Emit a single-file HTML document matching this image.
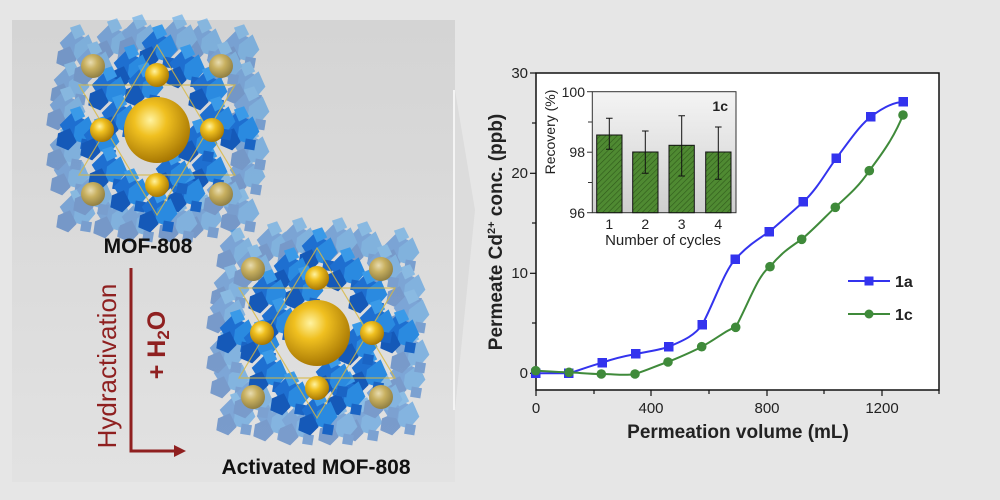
<!DOCTYPE html>
<html><head><meta charset="utf-8"><style>
html,body{margin:0;padding:0;width:1000px;height:500px;overflow:hidden;background:#e6e6e6}
svg{display:block;font-family:"Liberation Sans",sans-serif}
</style></head><body>
<svg width="1000" height="500" viewBox="0 0 1000 500">
<defs>
<linearGradient id="pg" x1="0" y1="0" x2="0" y2="1"><stop offset="0" stop-color="#d4d4d4"/><stop offset="1" stop-color="#e2e2e2"/></linearGradient>
<radialGradient id="gold" cx="0.4" cy="0.35" r="0.7"><stop offset="0" stop-color="#fff3a0"/><stop offset="0.35" stop-color="#f0c020"/><stop offset="1" stop-color="#a07000"/></radialGradient>
<radialGradient id="goldf" cx="0.4" cy="0.35" r="0.7"><stop offset="0" stop-color="#e8dcb0"/><stop offset="0.4" stop-color="#c8b060"/><stop offset="1" stop-color="#8a7a40"/></radialGradient>
<pattern id="hatch" width="4" height="4" patternUnits="userSpaceOnUse" patternTransform="rotate(45)"><rect width="4" height="4" fill="#4f8a32"/><line x1="0" y1="0" x2="0" y2="4" stroke="#2f5a1a" stroke-width="1.2"/></pattern>
<g id="cl"><g transform="scale(1.7)">
<polygon points="-9,-3 -2,-10 6,-6 4,3 -4,5" fill="#1e6fd0"/>
<polygon points="0,-2 8,-8 12,1 6,8 -1,6" fill="#2a8ae0"/>
<polygon points="-10,2 -3,-1 1,7 -4,12 -11,9" fill="#1559b8"/>
<polygon points="-3,-12 3,-14 6,-8 0,-5" fill="#3a9ae8"/>
<polygon points="4,5 10,6 9,12 3,11" fill="#1a64c4"/>
</g></g>
<g id="mof">
<g opacity="0.5">
<use href="#cl" x="-82" y="-82"/><use href="#cl" x="-45" y="-88"/><use href="#cl" x="45" y="-88"/><use href="#cl" x="82" y="-82"/>
<use href="#cl" x="-88" y="-45"/><use href="#cl" x="88" y="-45"/><use href="#cl" x="-88" y="45"/><use href="#cl" x="88" y="45"/>
<use href="#cl" x="-82" y="82"/><use href="#cl" x="-45" y="88"/><use href="#cl" x="45" y="88"/><use href="#cl" x="82" y="82"/>
<use href="#cl" x="-65" y="-65"/><use href="#cl" x="65" y="-65"/><use href="#cl" x="-65" y="65"/><use href="#cl" x="65" y="65"/>
<use href="#cl" x="-20" y="-92"/><use href="#cl" x="20" y="92"/><use href="#cl" x="-92" y="20"/><use href="#cl" x="92" y="-20"/>
<use href="#cl" x="-92" y="-20"/><use href="#cl" x="92" y="20"/><use href="#cl" x="20" y="-92"/><use href="#cl" x="-20" y="92"/>
</g>
<g>
<use href="#cl" x="0" y="-82"/><use href="#cl" x="-28" y="-62"/><use href="#cl" x="28" y="-62"/><use href="#cl" x="-50" y="-40"/><use href="#cl" x="50" y="-40"/>
<use href="#cl" x="-82" y="0"/><use href="#cl" x="82" y="0"/><use href="#cl" x="-58" y="10"/><use href="#cl" x="58" y="-10"/>
<use href="#cl" x="-50" y="40"/><use href="#cl" x="50" y="40"/><use href="#cl" x="-28" y="62"/><use href="#cl" x="28" y="62"/><use href="#cl" x="0" y="82"/>
<use href="#cl" x="-14" y="-44"/><use href="#cl" x="14" y="44"/><use href="#cl" x="-40" y="-12"/><use href="#cl" x="40" y="12"/>
</g>
<g fill="none" stroke="#d8b840" stroke-width="1.2" opacity="0.8">
<polygon points="0,-85 78,45 -78,45"/><polygon points="0,85 78,-45 -78,-45"/>
</g>
<circle r="33" fill="url(#gold)"/>
<circle cx="0" cy="-55" r="12" fill="url(#gold)"/><circle cx="0" cy="55" r="12" fill="url(#gold)"/>
<circle cx="-55" cy="0" r="12" fill="url(#gold)"/><circle cx="55" cy="0" r="12" fill="url(#gold)"/>
<circle cx="-64" cy="-64" r="12" fill="url(#goldf)"/><circle cx="64" cy="-64" r="12" fill="url(#goldf)"/>
<circle cx="-64" cy="64" r="12" fill="url(#goldf)"/><circle cx="64" cy="64" r="12" fill="url(#goldf)"/>
</g>
</defs>
<rect width="1000" height="500" fill="#e6e6e6"/>
<rect x="12" y="20" width="443" height="462" fill="url(#pg)"/>
<polygon points="455,90 475,210 455,410" fill="#dcdcdc"/>
<line x1="454" y1="90" x2="454" y2="410" stroke="#f4f4f4" stroke-width="2"/>

<use href="#mof" x="157" y="130"/>
<use href="#mof" x="317" y="333"/>
<text x="148" y="253" font-size="21" font-weight="bold" text-anchor="middle" fill="#111">MOF-808</text>
<text x="316" y="474" font-size="21" font-weight="bold" text-anchor="middle" fill="#111">Activated MOF-808</text>
<text transform="translate(116,366) rotate(-90)" font-size="26" text-anchor="middle" fill="#8f2020">Hydractivation</text>
<text transform="translate(165,345) rotate(-90)" font-size="25" font-weight="bold" text-anchor="middle" fill="#8f2020">+ H<tspan font-size="17" dy="4">2</tspan><tspan dy="-4">O</tspan></text>
<polyline points="131,268 131,451 176,451" fill="none" stroke="#8f2020" stroke-width="3"/>
<polygon points="174,445 186,451 174,457" fill="#8f2020"/>

<rect x="536" y="73" width="403" height="317" fill="#fff" stroke="#111" stroke-width="1.5"/>
<g stroke="#111" stroke-width="1.2">
<line x1="530" y1="73" x2="536" y2="73"/><line x1="530" y1="173.3" x2="536" y2="173.3"/><line x1="530" y1="273.3" x2="536" y2="273.3"/><line x1="530" y1="373.3" x2="536" y2="373.3"/>
<line x1="532" y1="123" x2="536" y2="123"/><line x1="532" y1="223" x2="536" y2="223"/><line x1="532" y1="323" x2="536" y2="323"/>
<line x1="536" y1="390" x2="536" y2="396"/><line x1="651" y1="390" x2="651" y2="396"/><line x1="767" y1="390" x2="767" y2="396"/><line x1="882" y1="390" x2="882" y2="396"/>
<line x1="594" y1="390" x2="594" y2="394"/><line x1="709" y1="390" x2="709" y2="394"/><line x1="824" y1="390" x2="824" y2="394"/><line x1="939" y1="390" x2="939" y2="394"/>
</g>
<g font-size="15" fill="#222" text-anchor="end">
<text x="528" y="78">30</text><text x="528" y="178">20</text><text x="528" y="278">10</text><text x="528" y="378">0</text>
</g>
<g font-size="15" fill="#222" text-anchor="middle">
<text x="536" y="413">0</text><text x="651" y="413">400</text><text x="767" y="413">800</text><text x="882" y="413">1200</text>
</g>
<text x="738" y="438" font-size="19" font-weight="bold" text-anchor="middle" fill="#222">Permeation volume (mL)</text>
<text transform="translate(502,232) rotate(-90)" font-size="19" font-weight="bold" text-anchor="middle" fill="#222">Permeate Cd<tspan font-size="11" dy="-7">2+</tspan><tspan dy="7"> conc. (ppb)</tspan></text>

<path d="M535.7,373.3 C550,373.3 560,373.3 569,373.3 C580,370 590,366 602.3,362.7 C615,358 625,356 636,354 C650,351 660,350 668.7,346.7 C685,340 695,335 702.3,324.7 C715,300 725,270 735.3,259.3 C748,245 760,238 769.3,231.7 C783,220 793,211 803.3,202 C818,188 826,172 836.3,158.3 C850,140 860,125 871,116.7 C885,106 895,102 903.3,102" fill="none" stroke="#3333ee" stroke-width="2"/>
<path d="M535.7,370.7 C550,371.5 560,372 569,372.3 C582,373 590,374 601.3,374 C615,374 625,376 635,374 C648,370 658,365 668,362 C682,356 692,352 701.7,346.7 C718,338 726,330 735.7,327.3 C750,300 758,275 770,266.7 C782,252 792,246 801.7,239.3 C815,228 825,217 835.3,207.3 C850,194 860,185 869.3,170.7 C885,150 895,135 903,115" fill="none" stroke="#3f8a3a" stroke-width="2"/>
<g fill="#3333ee">
<rect x="531" y="368.5" width="9.5" height="9.5"/><rect x="564" y="368.5" width="9.5" height="9.5"/><rect x="597.5" y="358" width="9.5" height="9.5"/><rect x="631" y="349" width="9.5" height="9.5"/><rect x="664" y="342" width="9.5" height="9.5"/><rect x="697.5" y="320" width="9.5" height="9.5"/><rect x="730.5" y="254.5" width="9.5" height="9.5"/><rect x="764.5" y="227" width="9.5" height="9.5"/><rect x="798.5" y="197" width="9.5" height="9.5"/><rect x="831.5" y="153.5" width="9.5" height="9.5"/><rect x="866" y="112" width="9.5" height="9.5"/><rect x="898.5" y="97" width="9.5" height="9.5"/>
</g>
<g fill="#3f8a3a">
<circle cx="535.7" cy="370.7" r="4.8"/><circle cx="569" cy="372.3" r="4.8"/><circle cx="601.3" cy="374" r="4.8"/><circle cx="635" cy="374" r="4.8"/><circle cx="668" cy="362" r="4.8"/><circle cx="701.7" cy="346.7" r="4.8"/><circle cx="735.7" cy="327.3" r="4.8"/><circle cx="770" cy="266.7" r="4.8"/><circle cx="801.7" cy="239.3" r="4.8"/><circle cx="835.3" cy="207.3" r="4.8"/><circle cx="869.3" cy="170.7" r="4.8"/><circle cx="903" cy="115" r="4.8"/>
</g>
<line x1="848" y1="281" x2="890" y2="281" stroke="#3333ee" stroke-width="2"/><rect x="864.5" y="276.5" width="9" height="9" fill="#3333ee"/>
<text x="895" y="287" font-size="16" font-weight="bold" fill="#222">1a</text>
<line x1="848" y1="314" x2="890" y2="314" stroke="#3f8a3a" stroke-width="2"/><circle cx="869" cy="314" r="4.5" fill="#3f8a3a"/>
<text x="895" y="320" font-size="16" font-weight="bold" fill="#222">1c</text>

<defs><linearGradient id="ig" x1="0" y1="0" x2="0" y2="1"><stop offset="0" stop-color="#f4f4f4"/><stop offset="1" stop-color="#cfcfcf"/></linearGradient></defs>
<rect x="592.3" y="91.7" width="143.7" height="121" fill="url(#ig)" stroke="#333" stroke-width="1"/>
<g stroke="#333" stroke-width="1">
<line x1="587" y1="91.7" x2="592.3" y2="91.7"/><line x1="588" y1="122" x2="592.3" y2="122"/><line x1="587" y1="152.2" x2="592.3" y2="152.2"/><line x1="588" y1="182.5" x2="592.3" y2="182.5"/><line x1="587" y1="212.7" x2="592.3" y2="212.7"/>
</g>
<g stroke="#111" stroke-width="1">
<rect x="596.7" y="135" width="25.3" height="77.7" fill="url(#hatch)"/>
<rect x="632.7" y="152" width="25.3" height="60.7" fill="url(#hatch)"/>
<rect x="669" y="145.3" width="25.3" height="67.4" fill="url(#hatch)"/>
<rect x="705.7" y="152" width="25.3" height="60.7" fill="url(#hatch)"/>
<path d="M609.3,118.3V149.3M606,118.3h6.6M606,149.3h6.6 M645.3,131V173.3M642,131h6.6M642,173.3h6.6 M681.7,115.7V176M678.4,115.7h6.6M678.4,176h6.6 M718.3,127V179.3M715,127h6.6M715,179.3h6.6" fill="none"/>
</g>
<g font-size="14" fill="#222" text-anchor="end">
<text x="585" y="97">100</text><text x="585" y="157">98</text><text x="585" y="218">96</text>
</g>
<g font-size="14" fill="#222" text-anchor="middle">
<text x="609.3" y="229">1</text><text x="645.3" y="229">2</text><text x="681.7" y="229">3</text><text x="718.3" y="229">4</text>
</g>
<text x="663" y="245" font-size="15" text-anchor="middle" fill="#222">Number of cycles</text>
<text transform="translate(555,132) rotate(-90)" font-size="14" text-anchor="middle" fill="#222">Recovery (%)</text>
<text x="728" y="111" font-size="14" font-weight="bold" text-anchor="end" fill="#222">1c</text>
</svg>
</body></html>
